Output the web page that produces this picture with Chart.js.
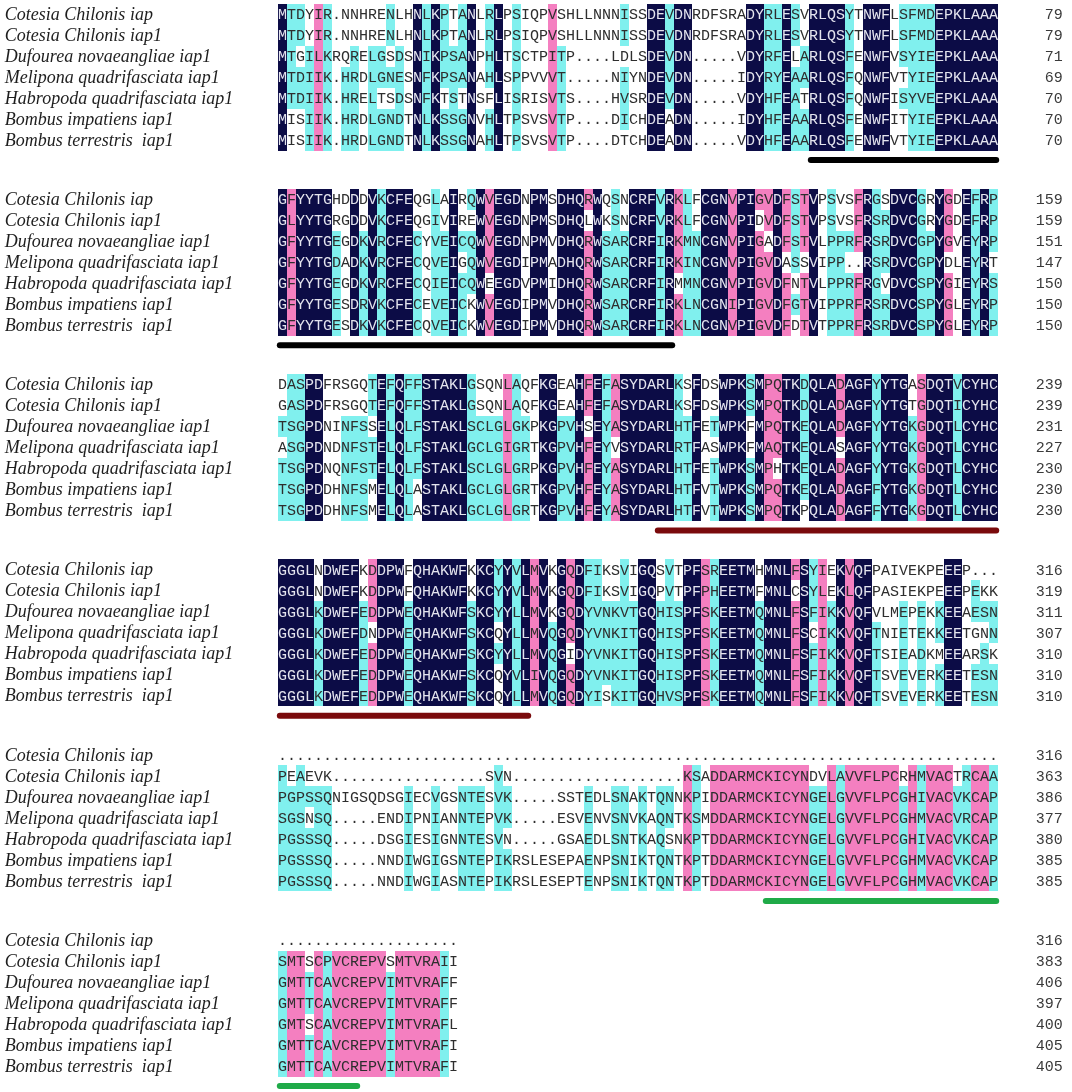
<!DOCTYPE html>
<html>
<head>
<meta charset="utf-8">
<script src="https://cdn.jsdelivr.net/npm/chart.js@4.4.1/dist/chart.umd.min.js"></script>
<style>
    html, body { margin: 0; padding: 0; background: #fff; }
    canvas { display: block; }
</style>
</head>
<body>
<canvas id="alignChart" width="1072" height="1092"></canvas>
<script>
// sequence names (one per row of every block)
const species = [
    "Cotesia Chilonis iap",
    "Cotesia Chilonis iap1",
    "Dufourea novaeangliae iap1",
    "Melipona quadrifasciata iap1",
    "Habropoda quadrifasciata iap1",
    "Bombus impatiens iap1",
    "Bombus terrestris  iap1",
];

// alignment, 80 columns per block
const block1 = [
    "MTDYIR.NNHRENLHNLKPTANLRLPSIQPVSHLLNNNISSDEVDNRDFSRADYRLESVRLQSYTNWFLSFMDEPKLAAA",
    "MTDYIR.NNHRENLHNLKPTANLRLPSIQPVSHLLNNNISSDEVDNRDFSRADYRLESVRLQSYTNWFLSFMDEPKLAAA",
    "MTGILKRQRELGSDSNIKPSANPHLTSCTPITP....LDLSDEVDN.....VDYRFELARLQSFENWFVSYIEEPKLAAA",
    "MTDIIK.HRDLGNESNFKPSANAHLSPPVVVT.....NIYNDEVDN.....IDYRYEAARLQSFQNWFVTYIEEPKLAAA",
    "MTDIIK.HRELTSDSNFKTSTNSFLISRISVTS....HVSRDEVDN.....VDYHFEATRLQSFQNWFISYVEEPKLAAA",
    "MISIIK.HRDLGNDTNLKSSGNVHLTPSVSVTP....DICHDEADN.....IDYHFEAARLQSFENWFITYIEEPKLAAA",
    "MISIIK.HRDLGNDTNLKSSGNAHLTPSVSVTP....DTCHDEADN.....VDYHFEAARLQSFENWFVTYIEEPKLAAA",
];
const block2 = [
    "GFYYTGHDDDVKCFEQGLAIRQWVEGDNPMSDHQRWQSNCRFVRKLFCGNVPIGVDFSTVPSVSFRGSDVCGRYGDEFRP",
    "GLYYTGRGDDVKCFEQGIVIREWVEGDNPMSDHQLWKSNCRFVRKLFCGNVPIDVDFSTVPSVSFRSRDVCGRYGDEFRP",
    "GFYYTGEGDKVRCFECYVEICQWVEGDNPMVDHQRWSARCRFIRKMNCGNVPIGADFSTVLPPRFRSRDVCGPYGVEYRP",
    "GFYYTGDADKVRCFECQVEIGQWVEGDIPMADHQRWSARCRFIRKINCGNVPIGVDASSVIPP..RSRDVCGPYDLEYRT",
    "GFYYTGEGDKVRCFECQIEICQWEEGDVPMIDHQRWSARCRFIRMMNCGNVPIGVDFNTVLPPRFRGVDVCSPYGIEYRS",
    "GFYYTGESDRVKCFECEVEICKWVEGDIPMVDHQRWSARCRFIRKLNCGNIPIGVDFGTVIPPRFRSRDVCSPYGLEYRP",
    "GFYYTGESDKVKCFECQVEICKWVEGDIPMVDHQRWSARCRFIRKLNCGNVPIGVDFDTVTPPRFRSRDVCSPYGLEYRP",
];
const block3 = [
    "DASPDFRSGQTEFQFFSTAKLGSQNLAQFKGEAHFEFASYDARLKSFDSWPKSMPQTKDQLADAGFYYTGASDQTVCYHC",
    "GASPDFRSGQTEFQFFSTAKLGSQNLAQFKGEAHFEFASYDARLKSFDSWPKSMPQTKDQLADAGFYYTGTGDQTICYHC",
    "TSGPDNINFSSELQLFSTAKLSCLGLGKPKGPVHSEYASYDARLHTFETWPKFMPQTKEQLADAGFYYTGKGDQTLCYHC",
    "ASGPDNDNFSTELQLFSTAKLGCLGIGRTKGPVHFEYVSYDARLRTFASWPKFMAQTKEQLASAGFYYTGKGDQTLCYHC",
    "TSGPDNQNFSTELQLFSTAKLSCLGLGRPKGPVHFEYASYDARLHTFETWPKSMPHTKEQLADAGFYYTGKGDQTLCYHC",
    "TSGPDDHNFSMELQLASTAKLGCLGLGRTKGPVHFEYASYDARLHTFVTWPKSMPQTKEQLADAGFFYTGKGDQTLCYHC",
    "TSGPDDHNFSMELQLASTAKLGCLGLGRTKGPVHFEYASYDARLHTFVTWPKSMPQTKPQLADAGFFYTGKGDQTLCYHC",
];
const block4 = [
    "GGGLNDWEFKDDPWFQHAKWFKKCYYVLMVKGQDFIKSVIGQSVTPFSREETMHMNLFSYIEKVQFPAIVEKPEEEP...",
    "GGGLNDWEFKDDPWFQHAKWFKKCYYVLMVKGQDFIKSVIGQPVTPFPHEETMFMNLCSYLEKLQFPASIEKPEEEPEKK",
    "GGGLKDWEFEDDPWEQHAKWFSKCYYLLMVKGQDYVNKVTGQHISPFSKEETMQMNLFSFIKKVQFVLMEPEKKEEAESN",
    "GGGLKDWEFDNDPWEQHAKWFSKCQYLLMVQGQDYVNKITGQHISPFSKEETMQMNLFSCIKKVQFTNIETEKKEETGNN",
    "GGGLKDWEFEDDPWEQHAKWFSKCYYLLMVQGIDYVNKITGQHISPFSKEETMQMNLFSFIKKVQFTSIEADKMEEARSK",
    "GGGLKDWEFEDDPWEQHAKWFSKCQYVLIVQGQDYVNKITGQHISPFSKEETMQMNLFSFIKKVQFTSVEVERKEETESN",
    "GGGLKDWEFEDDPWEQHAKWFSKCQYLLMVQGQDYISKITGQHVSPFSKEETMQMNLFSFIKKVQFTSVEVERKEETESN",
];
const block5 = [
    ".".repeat(80),
    "PEAEVK" + ".".repeat(17) + "SVN" + ".".repeat(19) + "KSADDARMCKICYNDVLAVVFLPCRHMVACTRCAA",
    "PGPSSQNIGSQDSGIECVGSNTESVK.....SSTEDLSNAKTQNNKPIDDARMCKICYNGELGVVFLPCGHIVACVKCAP",
    "SGSNSQ.....ENDIPNIANNTEPVK.....ESVENVSNVKAQNTKSMDDARMCKICYNGELGVVFLPCGHMVACVRCAP",
    "PGSSSQ.....DSGIESIGNNTESVN.....GSAEDLSNTKAQSNKPTDDARMCKICYNGELGVVFLPCGHIVACVKCAP",
    "PGSSSQ.....NNDIWGIGSNTEPIKRSLESEPAENPSNIKTQNTKPTDDARMCKICYNGELGVVFLPCGHMVACVKCAP",
    "PGSSSQ.....NNDIWGIASNTEPIKRSLESEPTENPSNIKTQNTKPTDDARMCKICYNGELGVVFLPCGHMVACVKCAP",
];
const block6 = [
    ".".repeat(20),
    "SMTSCPVCREPVSMTVRAII",
    "GMTTCAVCREPVIMTVRAFF",
    "GMTTCAVCREPVIMTVRAFF",
    "GMTSCAVCREPVIMTVRAFL",
    "GMTTCAVCREPVIMTVRAFI",
    "GMTTCAVCREPVIMTVRAFI",
];
const blocks = [block1, block2, block3, block4, block5, block6];

// residue count at the end of each line
const endNumbers = [
    [79, 79, 71, 69, 70, 70, 70],
    [159, 159, 151, 147, 150, 150, 150],
    [239, 239, 231, 227, 230, 230, 230],
    [316, 319, 311, 307, 310, 310, 310],
    [316, 363, 386, 377, 380, 385, 385],
    [316, 383, 406, 397, 400, 405, 405],
];

// domain underlines: block, first column, last column (1-based)
const markBlock = [0, 1, 2, 3, 4, 5];
const markFrom = [60, 1, 43, 1, 55, 1];
const markTo = [80, 44, 80, 28, 80, 9];
const markColor = ["#000000", "#000000", "#7a0a0c", "#7a0a0c", "#1faa48", "#1faa48"];

const shadeColors = { ident: "#0c0c46", high: "#f47fc0", mid: "#80f0ee" };
const similarGroups = ["ILVMF", "FYW", "AGSP", "KRH", "DE", "NQ"];

function similar(a, b) {
    return a === b || similarGroups.some((g) => g.includes(a) && g.includes(b));
}

// DNAMAN style homology shading: 100% / >=75% / >=50%
function shadeBlock(rows) {
    const len = Math.max(...rows.map((s) => s.length));
    const out = rows.map(() => []);
    for (let c = 0; c < len; c++) {
        const col = rows.map((s) => s[c] || ".");
        const counts = {};
        col.forEach((ch) => {
            if (ch !== ".") counts[ch] = (counts[ch] || 0) + 1;
        });
        let cons = null, best = 0;
        for (const k in counts) {
            if (counts[k] > best) { best = counts[k]; cons = k; }
        }
        col.forEach((ch, r) => {
            let s = "none";
            if (ch !== "." && cons) {
                if (best === rows.length) s = "ident";
                else if (best >= 6 && similar(ch, cons)) s = "high";
                else if (best >= 4 && similar(ch, cons)) s = "mid";
            }
            out[r][c] = s;
        });
    }
    return out;
}

const blockStep = 8.82; // rows from one block to the next

const points = [];
blocks.forEach((rows, b) => {
    const shades = shadeBlock(rows);
    rows.forEach((seq, r) => {
        for (let c = 0; c < seq.length; c++) {
            points.push({ x: c, y: b * blockStep + r, ch: seq[c], shade: shades[r][c] });
        }
    });
});

const alignmentPlugin = {
    id: "alignment",
    afterDatasetsDraw(chart) {
        const ctx = chart.ctx;
        const xs = chart.scales.x;
        const ys = chart.scales.y;
        const meta = chart.getDatasetMeta(0);
        const cw = xs.getPixelForValue(1) - xs.getPixelForValue(0);
        const ch = ys.getPixelForValue(1) - ys.getPixelForValue(0);

        ctx.save();
        // shaded cells
        meta.data.forEach((el, i) => {
            const p = points[i];
            if (p.shade === "none") return;
            const l = Math.round(el.x - cw / 2), r = Math.round(el.x + cw / 2);
            const t = Math.round(el.y - ch / 2), b = Math.round(el.y + ch / 2);
            ctx.fillStyle = shadeColors[p.shade];
            ctx.fillRect(l, t, r - l, b - t);
        });
        // residues
        ctx.font = "15px 'Liberation Mono', 'DejaVu Sans Mono', monospace";
        ctx.textAlign = "center";
        ctx.textBaseline = "middle";
        meta.data.forEach((el, i) => {
            const p = points[i];
            ctx.fillStyle = p.shade === "ident" ? "#e4e4ee" : "#2e2e2e";
            ctx.fillText(p.ch, el.x, el.y + 1);
        });

        // names and end numbers
        blocks.forEach((rows, b) => {
            rows.forEach((seq, r) => {
                const y = ys.getPixelForValue(b * blockStep + r);
                ctx.font = "italic 18px 'Liberation Serif', 'DejaVu Serif', serif";
                ctx.textAlign = "left";
                ctx.fillStyle = "#1e1e1e";
                ctx.fillText(species[r], xs.getPixelForValue(-30.85), y + 1);
                ctx.font = "15px 'Liberation Mono', 'DejaVu Sans Mono', monospace";
                ctx.textAlign = "right";
                ctx.fillStyle = "#3a3a3a";
                ctx.fillText(String(endNumbers[b][r]), xs.getPixelForValue(86.7), y + 1);
            });
        });

        // domain underlines
        ctx.lineCap = "round";
        ctx.lineWidth = 6;
        markBlock.forEach((b, i) => {
            const y = ys.getPixelForValue(b * blockStep + 6.95);
            ctx.strokeStyle = markColor[i];
            ctx.beginPath();
            ctx.moveTo(xs.getPixelForValue(markFrom[i] - 1.3), y);
            ctx.lineTo(xs.getPixelForValue(markTo[i] - 0.7), y);
            ctx.stroke();
        });
        ctx.restore();
    },
};

new Chart(document.getElementById("alignChart"), {
    type: "scatter",
    data: {
        datasets: [
            {
                data: points,
                pointRadius: 0,
                pointHoverRadius: 0,
            },
        ],
    },
    options: {
        responsive: false,
        animation: false,
        events: [],
        layout: { padding: 0 },
        plugins: { legend: { display: false }, tooltip: { enabled: false } },
        scales: {
            x: { type: "linear", display: false, min: -31.39, max: 87.72 },
            y: { type: "linear", display: false, reverse: true, min: -0.667, max: 51.33 },
        },
    },
    plugins: [alignmentPlugin],
});
</script>
</body>
</html>
